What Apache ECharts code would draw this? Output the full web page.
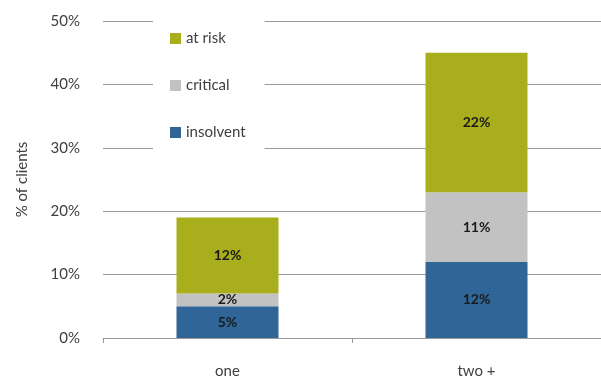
<!DOCTYPE html>
<html>
<head>
<meta charset="utf-8">
<style>
  html, body { margin: 0; padding: 0; background: #fff; }
  #chart { width: 601px; height: 381px; }
</style>
<script src="https://cdn.jsdelivr.net/npm/echarts@6/dist/echarts.min.js"></script>
</head>
<body>
<div id="chart"></div>
<script>
// Share of clients by number of loans, split by financial status (%)
const categories = ['one', 'two +'];
const insolvent = [5, 12];
const critical = [2, 11];
const atRisk = [12, 22];
const yTicks = [0, 10, 20, 30, 40, 50];

const FONT = 'Lato, "Open Sans", sans-serif';
const TEXT = '#404040';

const labelStyle = {
  show: true,
  position: 'inside',
  formatter: p => p.value + '%',
  fontFamily: FONT,
  fontWeight: 'bold',
  fontSize: 14,
  color: '#1a1a1a'
};

const chart = echarts.init(document.getElementById('chart'), null, { renderer: 'canvas' });
chart.setOption({
  animation: false,
  backgroundColor: '#ffffff',
  textStyle: { fontFamily: FONT },
  grid: { left: 103, top: 21, width: 508, bottom: 43, containLabel: false },
  legend: {
    orient: 'vertical',
    left: 153,
    top: 15,
    padding: [16, 19, 14, 17],
    backgroundColor: '#ffffff',
    itemWidth: 11,
    itemHeight: 11,
    itemGap: 32,
    icon: 'rect',
    data: ['at risk', 'critical', 'insolvent'],
    textStyle: { fontFamily: FONT, fontSize: 15, color: TEXT }
  },
  xAxis: {
    type: 'category',
    data: categories,
    axisLine: { lineStyle: { color: '#999999', width: 1 } },
    axisTick: { show: true, alignWithLabel: false, length: 5, lineStyle: { color: '#999999' } },
    axisLabel: { fontFamily: FONT, fontSize: 15, color: TEXT, margin: 26 }
  },
  yAxis: {
    type: 'value',
    min: yTicks[0],
    max: yTicks[yTicks.length - 1],
    interval: 10,
    name: '% of clients',
    nameLocation: 'middle',
    nameGap: 73,
    nameRotate: 90,
    nameTextStyle: { fontFamily: FONT, fontSize: 15, color: TEXT },
    axisLine: { show: false },
    axisTick: { show: false },
    axisLabel: { fontFamily: FONT, fontSize: 15, color: TEXT, margin: 23, formatter: v => v + '%' },
    splitLine: { lineStyle: { color: '#999999', width: 1 } }
  },
  series: [
    { name: 'insolvent', type: 'bar', stack: 'total', barWidth: 102, data: insolvent,
      itemStyle: { color: '#306597' }, label: labelStyle },
    { name: 'critical', type: 'bar', stack: 'total', barWidth: 102, data: critical,
      itemStyle: { color: '#c2c2c2' }, label: labelStyle },
    { name: 'at risk', type: 'bar', stack: 'total', barWidth: 102, data: atRisk,
      itemStyle: { color: '#a8ae1c' }, label: labelStyle }
  ]
});
</script>
</body>
</html>
